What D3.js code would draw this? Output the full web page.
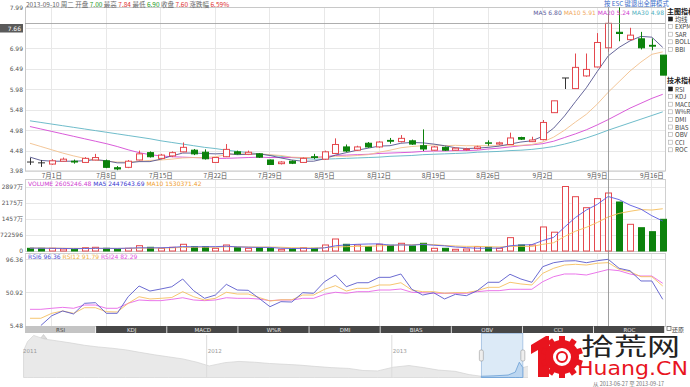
<!DOCTYPE html>
<html><head><meta charset="utf-8">
<script src="https://cdn.jsdelivr.net/npm/d3@7/dist/d3.min.js"></script>
<style>
html,body{margin:0;padding:0;background:#fff;overflow:hidden}
svg{display:block;font-family:"Noto Sans CJK SC","DejaVu Sans",sans-serif}
</style></head><body>
<svg id="chart" width="690" height="387"></svg>
<script>
// ---------------- DATA ----------------
const dates = ["2013-06-27","2013-06-28","2013-07-01","2013-07-02","2013-07-03","2013-07-04","2013-07-05","2013-07-08","2013-07-09","2013-07-10","2013-07-11","2013-07-12","2013-07-15","2013-07-16","2013-07-17","2013-07-18","2013-07-19","2013-07-22","2013-07-23","2013-07-24","2013-07-25","2013-07-26","2013-07-29","2013-07-30","2013-07-31","2013-08-01","2013-08-02","2013-08-05","2013-08-06","2013-08-07","2013-08-08","2013-08-09","2013-08-12","2013-08-13","2013-08-14","2013-08-15","2013-08-16","2013-08-19","2013-08-20","2013-08-21","2013-08-22","2013-08-23","2013-08-26","2013-08-27","2013-08-28","2013-08-29","2013-08-30","2013-09-02","2013-09-03","2013-09-04","2013-09-05","2013-09-06","2013-09-09","2013-09-10","2013-09-11","2013-09-12","2013-09-13","2013-09-16","2013-09-17"];
const openP  = [4.20,4.18,4.15,4.22,4.22,4.19,4.25,4.23,4.06,4.07,4.25,4.43,4.29,4.35,4.45,4.49,4.44,4.19,4.33,4.45,4.39,4.40,4.25,4.16,4.22,4.19,4.33,4.27,4.41,4.57,4.49,4.66,4.57,4.73,4.70,4.72,4.60,4.49,4.56,4.49,4.50,4.53,4.67,4.64,4.63,4.80,4.70,4.75,5.41,6.26,6.00,6.31,6.53,7.00,7.38,7.20,7.22,7.06,6.82];
const highP  = [4.30,4.25,4.27,4.31,4.26,4.32,4.40,4.26,4.10,4.25,4.48,4.46,4.40,4.46,4.68,4.52,4.51,4.32,4.64,4.48,4.48,4.42,4.26,4.22,4.24,4.31,4.40,4.48,4.78,4.63,4.60,4.69,4.71,4.79,4.86,4.75,5.00,4.59,4.58,4.55,4.55,4.60,4.73,4.70,4.92,4.82,4.82,5.23,5.70,6.26,6.86,6.86,7.36,7.84,7.99,7.49,7.39,7.23,6.82];
const lowP   = [4.13,4.08,4.13,4.21,4.16,4.18,4.24,4.05,4.00,4.05,4.24,4.31,4.27,4.32,4.44,4.37,4.26,4.18,4.32,4.38,4.37,4.30,4.14,4.14,4.15,4.18,4.27,4.25,4.40,4.44,4.47,4.55,4.55,4.65,4.68,4.62,4.47,4.48,4.47,4.48,4.48,4.51,4.60,4.62,4.63,4.74,4.69,4.73,5.41,5.99,6.00,6.29,6.52,6.90,7.16,7.18,6.96,6.94,6.33];
const closeP = [4.20,4.18,4.23,4.27,4.20,4.29,4.31,4.07,4.03,4.22,4.40,4.33,4.37,4.43,4.56,4.40,4.28,4.31,4.51,4.40,4.44,4.32,4.14,4.20,4.17,4.29,4.31,4.45,4.63,4.47,4.57,4.57,4.69,4.71,4.78,4.64,4.52,4.57,4.49,4.54,4.52,4.57,4.66,4.67,4.79,4.76,4.74,5.17,5.70,6.26,6.52,6.47,7.13,7.60,7.35,7.31,7.00,7.04,6.33];
const ma5  = [4.32,4.24,4.22,4.22,4.22,4.23,4.26,4.23,4.18,4.18,4.21,4.21,4.27,4.35,4.42,4.42,4.41,4.40,4.41,4.38,4.39,4.40,4.36,4.30,4.25,4.22,4.22,4.28,4.37,4.43,4.49,4.54,4.59,4.60,4.66,4.68,4.67,4.64,4.60,4.55,4.53,4.54,4.56,4.59,4.64,4.69,4.72,4.83,5.03,5.33,5.68,6.02,6.42,6.80,7.01,7.17,7.28,7.26,7.01];
const ma10 = [4.66,4.58,4.50,4.42,4.35,4.29,4.25,4.22,4.20,4.20,4.22,4.24,4.25,4.27,4.30,4.31,4.31,4.33,4.38,4.40,4.40,4.40,4.38,4.36,4.32,4.31,4.31,4.32,4.34,4.34,4.36,4.38,4.44,4.49,4.55,4.58,4.60,4.62,4.60,4.61,4.60,4.60,4.60,4.60,4.60,4.61,4.63,4.69,4.81,4.98,5.18,5.37,5.62,5.91,6.17,6.43,6.65,6.84,6.90];
const ma20 = [5.07,5.01,4.95,4.89,4.83,4.77,4.71,4.65,4.58,4.50,4.43,4.38,4.35,4.33,4.32,4.31,4.30,4.29,4.29,4.30,4.31,4.32,4.31,4.31,4.31,4.31,4.31,4.33,4.36,4.37,4.38,4.39,4.41,4.42,4.43,4.44,4.46,4.47,4.47,4.48,4.48,4.49,4.52,4.54,4.57,4.60,4.62,4.65,4.71,4.80,4.89,4.99,5.11,5.24,5.38,5.52,5.64,5.76,5.86];
const ma30 = [5.21,5.17,5.13,5.09,5.05,5.01,4.97,4.93,4.89,4.85,4.81,4.77,4.72,4.68,4.64,4.60,4.56,4.53,4.49,4.46,4.43,4.40,4.37,4.34,4.31,4.29,4.27,4.27,4.28,4.29,4.30,4.31,4.32,4.34,4.35,4.36,4.38,4.39,4.40,4.41,4.42,4.44,4.45,4.46,4.48,4.49,4.51,4.54,4.58,4.64,4.71,4.79,4.88,4.98,5.07,5.16,5.25,5.34,5.43];
// volume in 万股
const volume = [121,121,121,90,76,148,166,121,76,121,238,166,121,166,301,193,193,121,270,148,121,148,121,76,90,148,121,270,539,301,270,193,301,256,346,225,346,121,121,76,90,193,166,121,600,270,270,1080,845,2897,2439,1945,2352,2605,2201,1199,1046,867,1424];
const volMa5  = [130,125,120,115,106,111,120,120,117,126,144,144,144,162,198,189,195,195,216,185,171,162,162,123,111,117,111,141,234,276,300,315,321,264,273,264,295,259,232,178,151,120,129,129,234,270,285,468,613,1072,1506,1841,2096,2448,2308,2060,1881,1584,1347];
const volMa10 = [135,132,130,127,124,121,119,118,117,116,128,132,132,140,162,167,170,170,189,192,180,178,178,169,148,144,136,151,178,194,208,213,231,249,275,282,305,290,248,226,208,208,194,181,206,210,203,299,371,653,888,1063,1282,1530,1690,1783,1861,1840,1898];
const rsi6  = [null,5.48,18.9,25.4,21.3,35.9,36.8,22.2,22.2,45.0,59.7,52.8,55.6,58.7,69.3,53.3,42.8,47.3,62.0,54.2,53.8,42.8,31.3,38.2,37.7,50.5,49.7,65.6,74.8,58.7,64.2,64.2,71.6,71.6,76.2,55.2,47.3,50.5,41.9,48.3,46.4,53.3,64.8,64.8,75.8,69.3,64.8,86.2,91.7,94.0,94.4,91.7,94.4,96.36,84.0,80.7,66.6,66.6,41.4];
const rsi12 = [15.4,15.4,22.2,25.4,22.2,29.9,29.9,24.4,24.0,35.9,45.0,41.9,42.8,43.9,51.9,45.0,40.5,42.8,51.1,48.7,48.7,43.9,39.1,40.8,40.8,47.3,47.3,55.2,60.1,52.8,56.5,56.5,61.1,61.1,64.2,54.2,51.9,51.9,49.7,50.6,50.5,53.3,57.9,57.9,64.8,62.5,61.1,77.1,84.0,88.5,89.5,88.5,90.9,91.79,82.6,79.3,72.5,72.5,59.7];
const rsi24 = [27.7,27.7,29.1,30.4,29.1,33.6,33.6,29.1,29.1,35.9,40.5,39.6,39.6,41.4,43.6,40.5,39.6,40.5,43.6,42.8,42.8,41.8,39.6,40.5,40.5,42.8,42.8,48.3,51.1,49.7,51.9,51.9,54.2,54.2,55.6,51.1,50.5,49.7,49.7,49.7,49.7,51.9,53.3,53.3,55.2,55.2,55.2,65.6,72.5,76.2,76.2,74.8,78.5,82.29,80.7,76.2,73.4,73.4,63.4];
const priceTicks = [3.98,4.48,4.98,5.48,5.98,6.49,6.99,7.49,7.99];
const hiddenPriceTick = 7.49;   // covered by the cursor label in the original
const volTicks = [0,724,1449,2173,2897];
const volTickLabels = ["0","722596","1457万","2175万","2897万"];
const rsiTicks = [5.48,50.92,96.36];
const tabNames = ["RSI","KDJ","MACD","W%R","DMI","BIAS","OBV","CCI","ROC"];
const mainIndicators = ["均线","EXPMA","SAR","BOLL","BBI"];
const techIndicators = ["RSI","KDJ","MACD","W%R","DMI","BIAS","OBV","CCI","ROC"];
// overview (navigator) series
const navDates = ["2011-01-04","2011-01-12","2011-01-24","2011-02-15","2011-03-10","2011-04-06","2011-05-05","2011-06-01","2011-06-28","2011-07-25","2011-08-22","2011-09-20","2011-10-18","2011-11-15","2011-12-13","2012-01-06","2012-02-06","2012-03-05","2012-04-05","2012-05-04","2012-06-04","2012-07-03","2012-08-01","2012-09-03","2012-10-08","2012-11-05","2012-12-04","2013-01-04","2013-02-04","2013-03-05","2013-04-03","2013-05-06","2013-06-03","2013-06-27","2013-07-22","2013-08-19","2013-09-02","2013-09-10","2013-09-17","2013-10-15","2013-11-15","2013-12-16","2014-02-17","2014-04-15","2014-06-20"];
const navClose = [10.4,12.6,14.1,13.2,12.8,12.3,11.7,11.3,11.0,10.6,10.0,9.4,8.9,8.4,7.6,6.7,7.5,7.8,7.6,7.3,7.1,6.9,6.6,6.3,6.1,5.6,5.5,6.4,6.8,6.3,5.7,5.4,4.6,4.2,4.3,4.5,5.2,7.6,6.3,7.2,6.8,6.5,6.0,5.6,5.4];
const header = [["2013-09-10 周二 开盘 ","#666"],["7.00","#1a9a1a"],[" 最高 ","#666"],["7.84","#e03030"],[" 最低 ","#666"],["6.90","#1a9a1a"],[" 收盘 ","#666"],["7.60","#e03030"],[" 涨跌幅 ","#666"],["6.59%","#e03030"]];
const maLegend = [["MA5 6.80","#5a5a9a"],["MA10 5.91","#f0a860"],["MA20 5.24","#d040d0"],["MA30 4.98","#50b0c0"]];
const volLegend = [["VOLUME 2605246.48","#d040d0"],["MA5 2447643.69","#3a3ad0"],["MA10 1530371.42","#f0a030"]];
const rsiLegend = [["RSI6 96.36","#4a4ad0"],["RSI12 91.79","#f0b040"],["RSI24 82.29","#e050e0"]];
const crossIndex = 53, crossPrice = 7.60, cursorLabel = "7.66";

// ---------------- LAYOUT ----------------
const svg = d3.select("#chart");
const L = 25, R = 665;
const P = {top:7.4, bot:171};      // price panel
const V = {top:179, bot:251};      // volume panel
const S = {top:253, bot:326};      // rsi panel
const RED = "#e4484e", GREEN = "#0c820c", DOJI = "#333";
const n = dates.length;
const parse = d3.timeParse("%Y-%m-%d");
const xb = d3.scaleBand().domain(d3.range(n)).range([24.5, 668.2]).padding(0);
const cx = i => xb(i) + xb.bandwidth()/2;
const bw = 7;
const y = d3.scaleLinear().domain([3.98, 7.99]).range([P.bot, P.top]);
const yv = d3.scaleLinear().domain([0, 2897]).range([V.bot, 186.5]);
const yr = d3.scaleLinear().domain([5.48, 96.36]).range([325.5, 259.3]);
const mondays = d3.range(n).filter(i => parse(dates[i]).getDay() === 1);
const fmtMD = i => { const d = parse(dates[i]); return (d.getMonth()+1) + "月" + d.getDate() + "日"; };

const grid = svg.append("g");
function vgrid(top, bot) {
  grid.append("g").selectAll("line").data(mondays).join("line")
    .attr("x1", i => cx(i)).attr("x2", i => cx(i)).attr("y1", top).attr("y2", bot)
    .attr("stroke", "#e8e8e8").attr("shape-rendering","crispEdges");
}
grid.append("g").selectAll("line").data(priceTicks).join("line")
  .attr("x1", L).attr("x2", R).attr("y1", d => Math.round(y(d))+0.5).attr("y2", d => Math.round(y(d))+0.5)
  .attr("stroke", "#e8e8e8");
vgrid(P.top, P.bot);
grid.append("rect").attr("x", L+0.5).attr("y", 7.5).attr("width", R-L).attr("height", P.bot-7.5)
  .attr("fill","none").attr("stroke","#c8c8c8");
grid.append("g").selectAll("line").data(volTicks).join("line")
  .attr("x1", L).attr("x2", R).attr("y1", d => Math.round(yv(d))+0.5).attr("y2", d => Math.round(yv(d))+0.5)
  .attr("stroke", "#e8e8e8");
vgrid(V.top, V.bot);
grid.append("rect").attr("x", L+0.5).attr("y", V.top+0.5).attr("width", R-L).attr("height", V.bot-V.top)
  .attr("fill","none").attr("stroke","#d0d0d0");
grid.append("g").selectAll("line").data(rsiTicks).join("line")
  .attr("x1", L).attr("x2", R).attr("y1", d => Math.round(yr(d))+0.5).attr("y2", d => Math.round(yr(d))+0.5)
  .attr("stroke", "#e4e4e4");
vgrid(S.top, S.bot);
grid.append("rect").attr("x", L+0.5).attr("y", S.top+0.5).attr("width", R-L).attr("height", S.bot-S.top)
  .attr("fill","none").attr("stroke","#d0d0d0");

function styleAxis(g, size) {
  g.select(".domain").remove();
  g.selectAll(".tick line").remove();
  g.selectAll("text").attr("fill","#555").style("font-size", size+"px").style("font-family","'DejaVu Sans',sans-serif");
}
svg.append("g").attr("transform","translate(24,0)")
  .call(d3.axisLeft(y).tickValues(priceTicks).tickFormat(d => d === hiddenPriceTick ? "" : d3.format(".2f")(d)).tickSize(0).tickPadding(1))
  .call(g => styleAxis(g, 6));
svg.append("g").attr("transform","translate(24,0)")
  .call(d3.axisLeft(yv).tickValues(volTicks).tickFormat((d,i) => volTickLabels[i]).tickSize(0).tickPadding(1))
  .call(g => styleAxis(g, 6));
svg.append("g").attr("transform","translate(24,0)")
  .call(d3.axisLeft(yr).tickValues(rsiTicks).tickFormat(d3.format(".2f")).tickSize(0).tickPadding(1))
  .call(g => styleAxis(g, 6));
svg.append("g").attr("transform","translate(0,"+(P.bot+1)+")")
  .call(d3.axisBottom(xb).tickValues(mondays).tickFormat(fmtMD).tickSize(0).tickPadding(1))
  .call(g => styleAxis(g, 6.5)).selectAll("text").style("font-family","'Noto Sans CJK SC',sans-serif");

// ---------------- MA lines ----------------
const plot = svg.append("g");
const lineP = d3.line().x((d,i) => cx(i)).y(d => y(d));
[[ma30,"#5fb4c4"],[ma20,"#d54ad5"],[ma10,"#f2c08c"],[ma5,"#55558f"]].forEach(([arr,c]) => {
  plot.append("path").attr("d", lineP(arr)).attr("fill","none").attr("stroke",c).attr("stroke-width",0.9);
});

// ---------------- candles ----------------
const candles = d3.range(n).map(i => ({i, o:openP[i], h:highP[i], l:lowP[i], c:closeP[i]}));
const col = d => d.c > d.o ? RED : (d.c < d.o ? GREEN : DOJI);
const cg = plot.append("g").selectAll("g").data(candles).join("g");
cg.append("line").attr("x1", d => Math.round(cx(d.i))+0.5).attr("x2", d => Math.round(cx(d.i))+0.5)
  .attr("y1", d => y(d.h)).attr("y2", d => y(d.l)).attr("stroke", col).attr("stroke-width",1);
cg.append("rect")
  .attr("x", d => Math.round(cx(d.i)) - 3 + 0.5)
  .attr("y", d => Math.min(y(d.o), y(d.c)))
  .attr("width", bw-1)
  .attr("height", d => Math.max(0.01, Math.abs(y(d.o)-y(d.c))))
  .attr("fill", d => d.c > d.o ? "#fff" : col(d))
  .attr("stroke", col).attr("stroke-width", 1);

// ---------------- volume ----------------
const vUp = i => closeP[i] > openP[i] || (closeP[i] === openP[i] && i > 0 && closeP[i] >= closeP[i-1]);
svg.append("g").selectAll("rect").data(d3.range(n)).join("rect")
  .attr("x", i => Math.round(cx(i)) - 3 + 0.5)
  .attr("y", i => yv(volume[i]))
  .attr("width", bw-1)
  .attr("height", i => V.bot - yv(volume[i]))
  .attr("fill", i => vUp(i) ? "#fff" : GREEN)
  .attr("stroke", i => vUp(i) ? RED : GREEN).attr("stroke-width",1);
const lineV = d3.line().x((d,i) => cx(i)).y(d => yv(d));
svg.append("path").attr("d", lineV(volMa10)).attr("fill","none").attr("stroke","#f5bd5a").attr("stroke-width",0.9);
svg.append("path").attr("d", lineV(volMa5)).attr("fill","none").attr("stroke","#5a5ae0").attr("stroke-width",0.9);

// ---------------- RSI ----------------
const lineR = d3.line().defined(d => d != null).x((d,i) => cx(i)).y(d => yr(d));
[[rsi24,"#e866e8"],[rsi12,"#f5c060"],[rsi6,"#5a5acc"]].forEach(([arr,c]) => {
  svg.append("path").attr("d", lineR(arr)).attr("fill","none").attr("stroke",c).attr("stroke-width",0.9);
});

// ---------------- legends ----------------
function legend(items, x0, y0, size, anchorEnd) {
  const t = svg.append("text").attr("x", x0).attr("y", y0).style("font-size", size+"px")
    .style("font-family","'DejaVu Sans',sans-serif").attr("text-anchor", anchorEnd ? "end" : "start");
  items.forEach(([s,c],k) => t.append("tspan").text((k ? " " : "") + s).attr("fill", c));
  return t;
}
const hdr = svg.append("text").attr("x", 26).attr("y", 6.5).style("font-size","6.5px")
  .style("font-family","'Noto Sans CJK SC',sans-serif");
header.forEach(([s,c]) => hdr.append("tspan").text(s).attr("fill",c));
legend(maLegend, 664, 15, 6, true);
svg.append("text").attr("x", 604).attr("y", 6).text("按 ESC 键退出全屏模式").attr("fill","#3a6cc8")
  .style("font-size","6.3px");
legend(volLegend, 28, 185.5, 6, false);
legend(rsiLegend, 28, 258.5, 6, false);

// ---------------- crosshair ----------------
svg.append("line").attr("x1", Math.round(cx(crossIndex))+0.5).attr("x2", Math.round(cx(crossIndex))+0.5)
  .attr("y1", 7).attr("y2", 326).attr("stroke","#888").attr("stroke-width",0.8);
svg.append("line").attr("x1", L).attr("x2", R).attr("y1", Math.round(y(crossPrice))+0.5).attr("y2", Math.round(y(crossPrice))+0.5)
  .attr("stroke","#999").attr("stroke-width",0.8);
svg.append("rect").attr("x",0).attr("y",24).attr("width",23).attr("height",8.5).attr("fill","#5a5a5a");
svg.append("text").attr("x",21).attr("y",30.6).attr("text-anchor","end").text(cursorLabel)
  .attr("fill","#fff").style("font-size","6px").style("font-family","'DejaVu Sans',sans-serif");

// ---------------- right option panel ----------------
const side = svg.append("g").style("font-size","6.3px");
side.append("text").attr("x",667).attr("y",14).text("主图指标").attr("fill","#222").style("font-size","7px").style("font-weight","bold");
side.append("text").attr("x",667).attr("y",83).text("技术指标").attr("fill","#222").style("font-size","7px").style("font-weight","bold");
function checks(list, y0, step) {
  list.forEach((s,k) => {
    const yy = y0 + k*step;
    side.append("rect").attr("x",668.5).attr("y",yy-4.5).attr("width",4).attr("height",4)
      .attr("fill", k===0 ? "#222" : "#fff").attr("stroke", k===0 ? "#222" : "#aaa").attr("stroke-width",0.6);
    side.append("text").attr("x",675).attr("y",yy).text(s).attr("fill","#444");
  });
}
checks(mainIndicators, 21.5, 7.6);
checks(techIndicators, 91.5, 7.6);

// ---------------- tab bar ----------------
const tw = (R - L) / tabNames.length;
const tabs = svg.append("g");
tabNames.forEach((s,k) => {
  tabs.append("rect").attr("x", L + k*tw).attr("y", 326).attr("width", tw - 0.8).attr("height", 7)
    .attr("fill", k===0 ? "#c4c4c4" : "#474747");
  tabs.append("text").attr("x", L + k*tw + tw/2).attr("y", 331.8).attr("text-anchor","middle").text(s)
    .attr("fill", k===0 ? "#444" : "#e8e8e8").style("font-size","5.5px").style("font-family","'DejaVu Sans',sans-serif");
});
tabs.append("rect").attr("x",667).attr("y",326.5).attr("width",4).attr("height",4).attr("fill","#fff").attr("stroke","#555").attr("stroke-width",0.7);
tabs.append("text").attr("x",672).attr("y",331.5).text("还原").attr("fill","#333").style("font-size","6px");
tabs.append("path").attr("d","M40,339 L43.5,334.5 L47,339 Z").attr("fill","#ddd").attr("stroke","#bbb").attr("stroke-width",0.5);

// ---------------- navigator ----------------
const nx = d3.scaleTime().domain([new Date(2011,0,1), new Date(2014,5,25)]).range([22, 665]);
const ny = d3.scaleLinear().domain([3.9, 14.2]).range([377.5, 335]);
const navData = navDates.map((d,i) => ({d: parse(d), v: navClose[i]}));
const nav = svg.append("g");
nav.append("path").datum(navData)
  .attr("d", d3.area().x(d => nx(d.d)).y0(377.5).y1(d => ny(d.v)))
  .attr("fill","#e9e9e9").attr("stroke","#d2d2d2").attr("stroke-width",0.7);
[2011,2012,2013].forEach(yr0 => {
  const xx = nx(new Date(yr0,0,1));
  if (yr0 > 2011) nav.append("line").attr("x1",xx).attr("x2",xx).attr("y1",335).attr("y2",377.5).attr("stroke","#ddd");
  nav.append("text").attr("x", xx+1).attr("y", 353).text(yr0).attr("fill","#999")
    .style("font-size","5.5px").style("font-family","'DejaVu Sans',sans-serif");
});
const w0 = nx(parse(dates[0])), w1 = nx(parse(dates[n-1]));
nav.append("rect").attr("x", w0).attr("y", 333.5).attr("width", w1-w0).attr("height", 44)
  .attr("fill","#d6e6f6").attr("fill-opacity",0.85).attr("stroke","#9dbde0").attr("stroke-width",0.8);
const inWin = navData.filter(d => d.d >= parse(dates[0]) && d.d <= parse(dates[n-1]));
nav.append("path").datum(inWin)
  .attr("d", d3.area().x(d => nx(d.d)).y0(377.5).y1(d => ny(d.v)))
  .attr("fill","#bcd6f0").attr("stroke","#6b9fd6").attr("stroke-width",0.8);
[w0, w1].forEach(xx => {
  nav.append("rect").attr("x", xx-2).attr("y", 350).attr("width", 4).attr("height", 11).attr("rx",1.5)
    .attr("fill","#eee").attr("stroke","#999").attr("stroke-width",0.6);
});

// ---------------- watermark logo ----------------
const logo = svg.append("g");
logo.append("rect").attr("x",528).attr("y",333).attr("width",162).attr("height",47).attr("fill","#fff");
logo.append("path").attr("d","M531,345 L546,336 L549,336 L549,377 L538,377 L538,350 L531,354 Z").attr("fill","#e8141e");
const gc = {x:562, y:357};
d3.range(10).forEach(k => {
  logo.append("rect").attr("x", gc.x-3).attr("y", gc.y-21).attr("width",6).attr("height",7)
    .attr("fill","#e8141e").attr("transform", `rotate(${k*36},${gc.x},${gc.y})`);
});
logo.append("circle").attr("cx",gc.x).attr("cy",gc.y).attr("r",13).attr("fill","#fff").attr("stroke","#e8141e").attr("stroke-width",8);
logo.append("circle").attr("cx",gc.x).attr("cy",gc.y).attr("r",5).attr("fill","none").attr("stroke","#e8141e").attr("stroke-width",2);
logo.append("text").attr("x",581).attr("y",355).text("拾荒网").attr("fill","#222")
  .style("font-size","24px").attr("textLength",99).attr("lengthAdjust","spacingAndGlyphs");
logo.append("text").attr("x",577).attr("y",375).text("Huang.CN").attr("fill","#e8141e")
  .style("font-size","19px").style("font-family","'Liberation Sans Narrow','DejaVu Sans Condensed',sans-serif")
  .attr("textLength",111).attr("lengthAdjust","spacingAndGlyphs");
svg.append("text").attr("x",593).attr("y",385.5).text("从 " + dates[0] + " 至 " + dates[n-1]).attr("fill","#777")
  .style("font-size","5.5px");
</script>
</body></html>
